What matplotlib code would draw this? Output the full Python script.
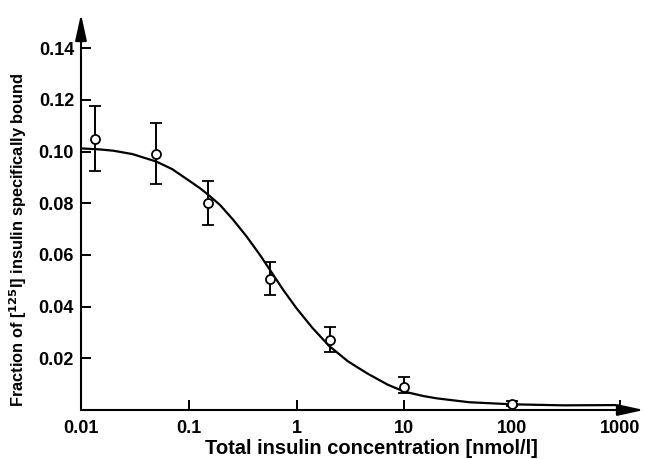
import matplotlib
matplotlib.use("Agg")
import matplotlib.pyplot as plt
import numpy as np

plt.rcParams['font.family'] = ['Liberation Sans', 'DejaVu Sans']
plt.rcParams['font.weight'] = 'bold'

# measured points
conc = [0.0135, 0.05, 0.15, 0.567, 2.04, 10.0, 100.0]
frac = [0.1050, 0.0990, 0.0800, 0.0507, 0.0270, 0.0090, 0.0025]
err_up = [0.0126, 0.0120, 0.0086, 0.0064, 0.0050, 0.0036, 0.0008]
err_dn = [0.0125, 0.0116, 0.0084, 0.0062, 0.0046, 0.0024, 0.0008]

# fitted curve
curve_x = [0.01, 0.015, 0.02, 0.03, 0.05, 0.07, 0.1, 0.127, 0.152, 0.195,
           0.259, 0.344, 0.457, 0.566, 0.753, 1.0, 1.4, 2.0, 3.0, 4.5, 7.0,
           10.0, 15.0, 20.0, 40.0, 100.0, 300.0, 900.0]
curve_y = [0.1012, 0.1008, 0.1003, 0.0990, 0.0961, 0.0932, 0.0888, 0.0858,
           0.0832, 0.0793, 0.0735, 0.0671, 0.0600, 0.0542, 0.0464, 0.0393,
           0.0318, 0.0248, 0.0188, 0.0142, 0.0098, 0.0071, 0.0054, 0.0045,
           0.0030, 0.0022, 0.0018, 0.0019]

x_ticks = [0.01, 0.1, 1, 10, 100, 1000]
x_tick_labels = ['0.01', '0.1', '1', '10', '100', '1000']
y_ticks = [0.02, 0.04, 0.06, 0.08, 0.10, 0.12, 0.14]
y_tick_labels = ['0.02', '0.04', '0.06', '0.08', '0.10', '0.12', '0.14']

fig = plt.figure(figsize=(6.45, 4.59), dpi=100)
W, H = 645, 459
left, right, bottom, top = 81, 644, 410, 14
ax = fig.add_axes([left / W, 1 - bottom / H, (right - left) / W, (bottom - top) / H])

ax.set_xscale('log')
ax.set_xlim(0.01, 10 ** (-2 + (right - left) / 107.8))
ax.set_ylim(0, (bottom - top) / 2585)

ax.plot(curve_x, curve_y, color='black', lw=1.6, zorder=2)
ax.errorbar(conc, frac, yerr=[err_dn, err_up], fmt='o', color='black',
            mfc='white', mec='black', ms=6.5, mew=1.3, ecolor='black',
            elinewidth=1.4, capsize=4, capthick=1.4, zorder=3)

for s in ax.spines.values():
    s.set_visible(False)
ap = dict(arrowstyle='-|>,head_length=1.6,head_width=0.35', lw=1.5,
          color='black', shrinkA=0, shrinkB=0, mutation_scale=10)
ax.annotate('', xy=(1, 0), xytext=(0, 0), xycoords='axes fraction',
            textcoords='axes fraction', arrowprops=ap, annotation_clip=False)
ax.annotate('', xy=(0, 1), xytext=(0, 0), xycoords='axes fraction',
            textcoords='axes fraction', arrowprops=ap, annotation_clip=False)

ax.set_xticks(x_ticks)
ax.set_xticklabels(x_tick_labels)
ax.xaxis.set_minor_locator(matplotlib.ticker.NullLocator())
ax.set_yticks(y_ticks)
ax.set_yticklabels(y_tick_labels)
ax.tick_params(axis='both', direction='in', length=7, width=1.4,
               labelsize=13, pad=7)
ax.tick_params(axis='y', pad=5)
for lab in ax.get_xticklabels() + ax.get_yticklabels():
    lab.set_fontweight('bold')

fig.text(371 / W, 1 - 448 / H, 'Total insulin concentration [nmol/l]',
         ha='center', va='center', fontsize=14.5, fontweight='bold')
fig.text(18 / W, 1 - 240 / H, r'Fraction of [$^{\mathbf{125}}$I] insulin specifically bound',
         ha='center', va='center', rotation=90, fontsize=11.8, fontweight='bold')

fig.savefig('out.png', dpi=100)
